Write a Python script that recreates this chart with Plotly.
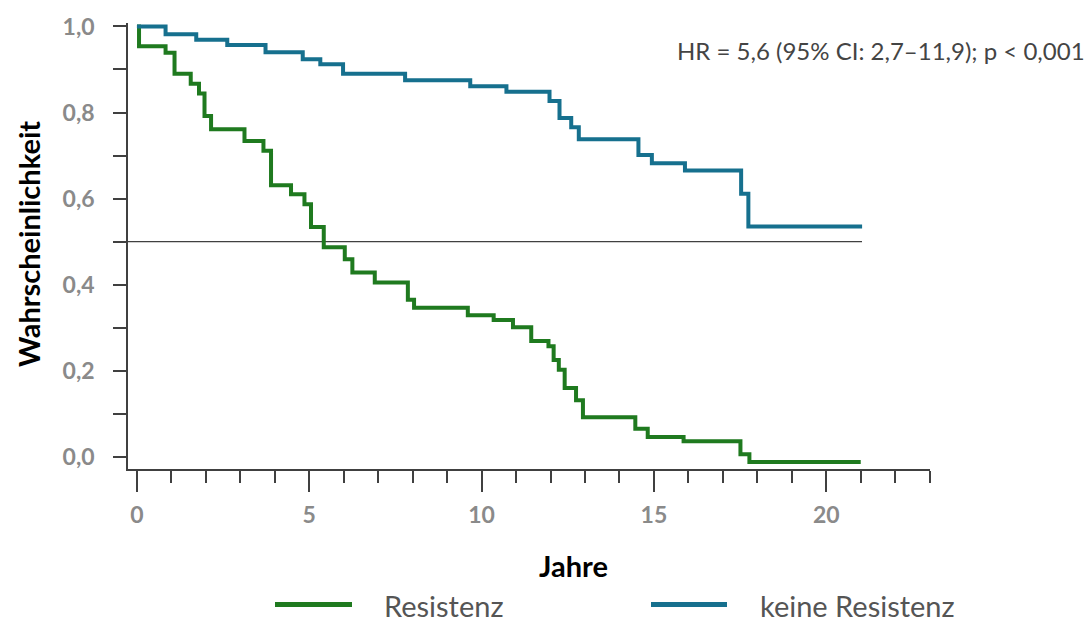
import plotly.graph_objects as go

# ---- data ----
resistenz_t = [0.0, 0.06, 0.83, 1.09, 1.56, 1.80, 1.96, 2.15, 3.12, 3.67, 3.89, 4.47, 4.86, 5.05, 5.42,
               6.03, 6.25, 6.90, 7.86, 8.04, 9.60, 10.35, 10.91, 11.44, 11.94, 12.09, 12.24, 12.41,
               12.74, 12.94, 14.46, 14.82, 15.86, 17.51, 17.77, 21.0]
resistenz_s = [1.0, 0.954, 0.939, 0.890, 0.867, 0.844, 0.792, 0.761, 0.734, 0.711, 0.631, 0.610, 0.587,
               0.534, 0.487, 0.459, 0.428, 0.405, 0.365, 0.346, 0.329, 0.318, 0.301, 0.269, 0.257,
               0.225, 0.202, 0.160, 0.131, 0.092, 0.065, 0.046, 0.036, 0.006, -0.012, -0.012]

keine_t = [0.0, 0.83, 1.72, 2.62, 3.73, 4.81, 5.32, 5.98, 7.78, 9.67, 10.72, 11.97, 12.26, 12.60,
           12.82, 14.55, 14.94, 15.90, 17.53, 17.74, 21.04]
keine_s = [1.0, 0.982, 0.969, 0.957, 0.940, 0.924, 0.912, 0.890, 0.875, 0.861, 0.848, 0.827, 0.787,
           0.766, 0.738, 0.701, 0.682, 0.665, 0.611, 0.535, 0.535]

series_names = ["Resistenz", "keine Resistenz"]
series_colors = ["#1f7a1f", "#16708e"]
x_tick_vals = [0, 5, 10, 15, 20]
y_tick_vals = [0.0, 0.2, 0.4, 0.6, 0.8, 1.0]
median_level = 0.5
hr_text = "HR = 5,6 (95% CI: 2,7–11,9); p < 0,001"
x_title = "Jahre"
y_title = "Wahrscheinlichkeit"

FONT = "Lato"
AXIS_COLOR = "#404040"

W, H = 1090, 623
L, R, T, B = 128, 160, 15, 154
PW = W - L - R
PH = H - T - B


def px_x(px):
    return (px - L) / PW


def px_y(py):
    return (H - B - py) / PH


fig = go.Figure()
for t, s, name, col in [(resistenz_t, resistenz_s, series_names[0], series_colors[0]),
                        (keine_t, keine_s, series_names[1], series_colors[1])]:
    fig.add_trace(go.Scatter(x=t, y=s, mode="lines", name=name, line_shape="hv",
                             line=dict(color=col, width=4), showlegend=False))

fig.update_layout(
    width=W, height=H,
    margin=dict(l=L, r=R, t=T, b=B, pad=0),
    paper_bgcolor="white", plot_bgcolor="white",
    separators=",.",
    font=dict(family=FONT),
)

fig.update_xaxes(
    range=[-0.26, 23.01], showgrid=False, zeroline=False,
    showline=True, linecolor=AXIS_COLOR, linewidth=1.5,
    ticks="outside", ticklen=21, tickwidth=1.5, tickcolor=AXIS_COLOR,
    tickvals=x_tick_vals, ticktext=[str(v) for v in x_tick_vals],
    tickfont=dict(family=FONT, size=23, color="#8a8a8a", weight="bold"),
    ticklabelstandoff=4,
    minor=dict(dtick=1, tick0=0, ticks="outside", ticklen=12, tickwidth=1.5, tickcolor=AXIS_COLOR,
               showgrid=False),
)
fig.update_yaxes(
    range=[-0.0285, 1.008], showgrid=False, zeroline=False,
    showline=True, linecolor=AXIS_COLOR, linewidth=1.5,
    ticks="outside", ticklen=13, tickwidth=1.5, tickcolor=AXIS_COLOR,
    tickvals=y_tick_vals, ticktext=[f"{v:.1f}".replace(".", ",") for v in y_tick_vals],
    tickfont=dict(family=FONT, size=23, color="#8a8a8a", weight="bold"),
    ticklabelstandoff=14,
    minor=dict(dtick=0.1, tick0=0, ticks="outside", ticklen=13, tickwidth=1.5, tickcolor=AXIS_COLOR,
               showgrid=False),
)

# median reference line
fig.add_shape(type="line", xref="paper", yref="y", x0=px_x(115), x1=px_x(862),
              y0=median_level, y1=median_level, line=dict(color=AXIS_COLOR, width=1.3), layer="below")

# annotations
fig.add_annotation(text=hr_text, xref="paper", yref="paper", x=px_x(1087), y=px_y(43),
                   xanchor="right", yanchor="middle", showarrow=False,
                   font=dict(family=FONT, size=24, color="#444444"))
fig.add_annotation(text=x_title, xref="paper", yref="paper", x=px_x(573), y=px_y(567),
                   xanchor="center", yanchor="middle", showarrow=False,
                   font=dict(family=FONT, size=29, color="black", weight="bold"))
fig.add_annotation(text=y_title, xref="paper", yref="paper", x=px_x(28), y=px_y(240),
                   xanchor="center", yanchor="middle", showarrow=False, textangle=-90,
                   font=dict(family=FONT, size=29, color="black", weight="bold"))

# custom legend
legend_items = [(275, 352, 382), (651, 727, 758)]
for (x0, x1, tx), name, col in zip(legend_items, series_names, series_colors):
    fig.add_shape(type="line", xref="paper", yref="paper", x0=px_x(x0), x1=px_x(x1),
                  y0=px_y(607), y1=px_y(607), line=dict(color=col, width=5))
    fig.add_annotation(text=name, xref="paper", yref="paper", x=px_x(tx), y=px_y(608),
                       xanchor="left", yanchor="middle", showarrow=False,
                       font=dict(family=FONT, size=29, color="#555555"))

fig.write_html("out.html")
